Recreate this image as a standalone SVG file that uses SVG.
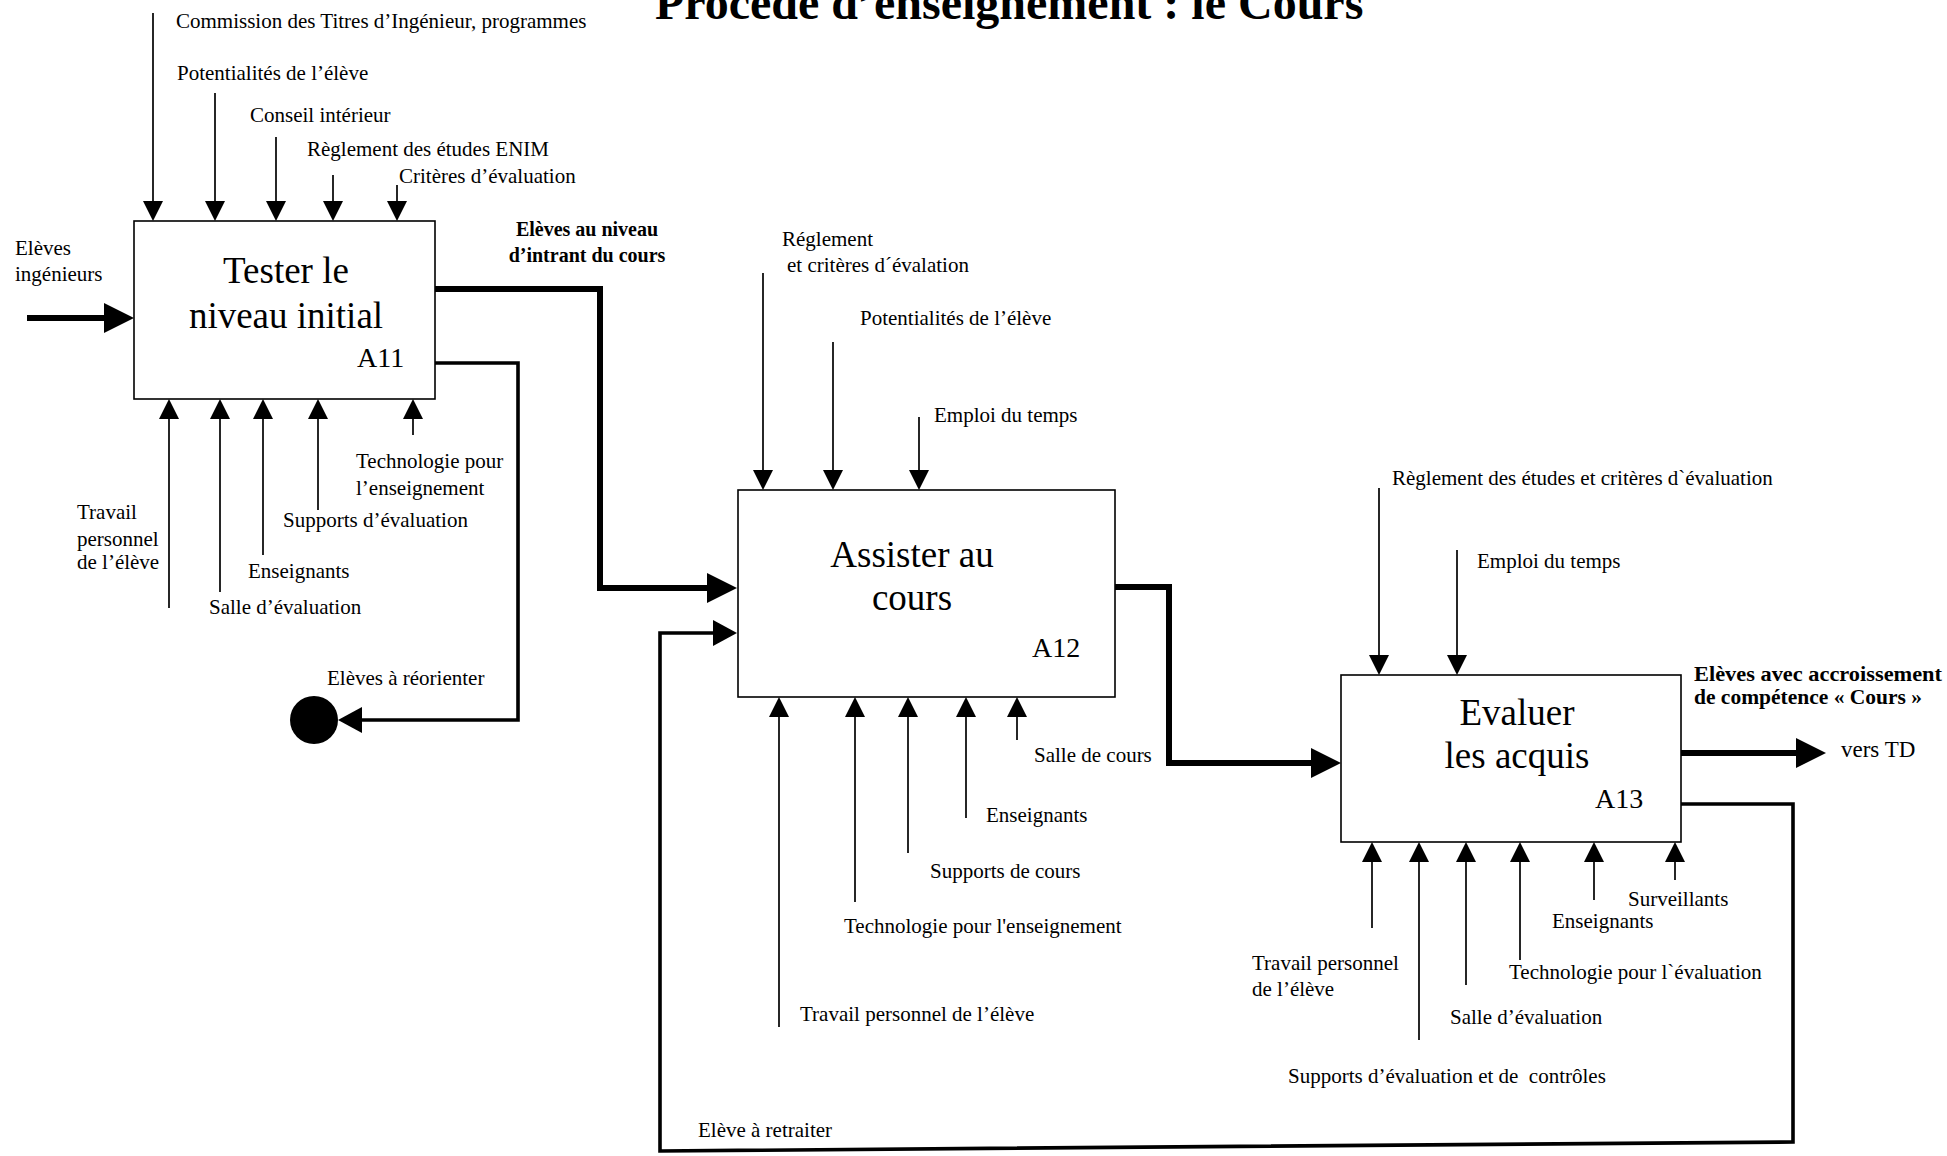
<svg xmlns="http://www.w3.org/2000/svg" width="1947" height="1156" viewBox="0 0 1947 1156">
<style>
text{font-family:"Liberation Serif","Times New Roman",serif;fill:#000}
.lbl{font-size:21px}
.bl{font-size:20px;font-weight:bold}
.ttl{font-size:48px;font-weight:bold}
.nm{font-size:37px;text-anchor:middle}
.id{font-size:28px}
.box{fill:#fff;stroke:#000;stroke-width:1.6}
.c{fill:none;stroke:#000;stroke-width:1.7}
.k{fill:none;stroke:#000;stroke-width:6}
.m{fill:none;stroke:#000;stroke-width:3.6}
.s{marker-end:url(#ah)}
.kl{marker-end:url(#ahL)}
.mm{marker-end:url(#ahM)}
</style>
<defs>
<marker id="ah" viewBox="0 0 20 20" refX="0" refY="10" markerWidth="20" markerHeight="20" markerUnits="userSpaceOnUse" orient="auto"><path d="M0,0 L20,10 L0,20 z" fill="#000"/></marker>
<marker id="ahL" viewBox="0 0 30 30" refX="0" refY="15" markerWidth="30" markerHeight="30" markerUnits="userSpaceOnUse" orient="auto"><path d="M0,0 L30,15 L0,30 z" fill="#000"/></marker>
<marker id="ahM" viewBox="0 0 24 26" refX="0" refY="13" markerWidth="24" markerHeight="26" markerUnits="userSpaceOnUse" orient="auto"><path d="M0,0 L24,13 L0,26 z" fill="#000"/></marker>
</defs>
<rect width="1947" height="1156" fill="#fff"/>
<text class="ttl" x="655" y="19">Procédé d’enseignement : le Cours</text>

<g id="connectors">
<path class="c s" d="M153,13 V201"/>
<path class="c s" d="M215,93 V201"/>
<path class="c s" d="M276,137 V201"/>
<path class="c s" d="M333,175 V201"/>
<path class="c s" d="M397,185 V201"/>
<path class="c s" d="M169,608 V419"/>
<path class="c s" d="M220,592 V419"/>
<path class="c s" d="M263,555 V419"/>
<path class="c s" d="M318,510 V419"/>
<path class="c s" d="M413,435 V419"/>
<path class="k kl" d="M27,318 H104"/>
<path class="k kl" d="M435,289 H600 V588 H707"/>
<path class="m mm" d="M435,363 H518 V720 H362"/>
<path class="c s" d="M763,273 V470"/>
<path class="c s" d="M833,342 V470"/>
<path class="c s" d="M919,417 V470"/>
<path class="m mm" d="M1681,804 H1793 V1142 L660,1151 V633 H713"/>
<path class="c s" d="M779,1027 V717"/>
<path class="c s" d="M855,902 V717"/>
<path class="c s" d="M908,853 V717"/>
<path class="c s" d="M966,818 V717"/>
<path class="c s" d="M1017,740 V717"/>
<path class="k kl" d="M1115,587 H1169 V763 H1311"/>
<path class="c s" d="M1379,488 V655"/>
<path class="c s" d="M1457,550 V655"/>
<path class="k kl" d="M1681,753 H1796"/>
<path class="c s" d="M1372,928 V862"/>
<path class="c s" d="M1419,1040 V862"/>
<path class="c s" d="M1466,985 V862"/>
<path class="c s" d="M1520,960 V862"/>
<path class="c s" d="M1594,900 V862"/>
<path class="c s" d="M1675,880 V862"/>
</g>

<g id="A11">
<rect class="box" x="134" y="221" width="301" height="178"/>
<text class="nm" x="286" y="283">Tester le</text>
<text class="nm" x="286" y="328">niveau initial</text>
<text class="id" x="357" y="367">A11</text>
</g>
<g id="A12">
<rect class="box" x="738" y="490" width="377" height="207"/>
<text class="nm" x="912" y="567">Assister au</text>
<text class="nm" x="912" y="610">cours</text>
<text class="id" x="1032" y="657">A12</text>
</g>
<g id="A13">
<rect class="box" x="1341" y="675" width="340" height="167"/>
<text class="nm" x="1517" y="725">Evaluer</text>
<text class="nm" x="1517" y="768">les acquis</text>
<text class="id" x="1595" y="808">A13</text>
</g>
<g id="reorienter">
<circle cx="314" cy="720" r="24" fill="#000"/>
</g>

<g id="labels">
<text class="lbl" x="176" y="28">Commission des Titres d’Ingénieur, programmes</text>
<text class="lbl" x="177" y="80">Potentialités de l’élève</text>
<text class="lbl" x="250" y="122">Conseil intérieur</text>
<text class="lbl" x="307" y="156">Règlement des études ENIM</text>
<text class="lbl" x="399" y="183">Critères d’évaluation</text>
<text class="lbl" x="15" y="255">Elèves</text>
<text class="lbl" x="15" y="281">ingénieurs</text>
<text class="bl" x="587" y="236" text-anchor="middle">Elèves au niveau</text>
<text class="bl" x="587" y="262" text-anchor="middle">d’intrant du cours</text>
<text class="lbl" x="356" y="468">Technologie pour</text>
<text class="lbl" x="356" y="495">l’enseignement</text>
<text class="lbl" x="283" y="527">Supports d’évaluation</text>
<text class="lbl" x="77" y="519">Travail</text>
<text class="lbl" x="77" y="546">personnel</text>
<text class="lbl" x="77" y="569">de l’élève</text>
<text class="lbl" x="248" y="578">Enseignants</text>
<text class="lbl" x="209" y="614">Salle d’évaluation</text>
<text class="lbl" x="327" y="685">Elèves à réorienter</text>
<text class="lbl" x="782" y="246">Réglement</text>
<text class="lbl" x="787" y="272">et critères d´évalation</text>
<text class="lbl" x="860" y="325">Potentialités de l’élève</text>
<text class="lbl" x="934" y="422">Emploi du temps</text>
<text class="lbl" x="1034" y="762">Salle de cours</text>
<text class="lbl" x="986" y="822">Enseignants</text>
<text class="lbl" x="930" y="878">Supports de cours</text>
<text class="lbl" x="844" y="933">Technologie pour l'enseignement</text>
<text class="lbl" x="800" y="1021">Travail personnel de l’élève</text>
<text class="lbl" x="698" y="1137">Elève à retraiter</text>
<text class="lbl" x="1392" y="485">Règlement des études et critères d`évaluation</text>
<text class="lbl" x="1477" y="568">Emploi du temps</text>
<text class="bl" x="1694" y="681" textLength="248" lengthAdjust="spacingAndGlyphs">Elèves avec accroissement</text>
<text class="bl" x="1694" y="704" textLength="228" lengthAdjust="spacingAndGlyphs">de compétence « Cours »</text>
<text class="lbl" x="1841" y="757" style="font-size:23px">vers TD</text>
<text class="lbl" x="1628" y="906">Surveillants</text>
<text class="lbl" x="1552" y="928">Enseignants</text>
<text class="lbl" x="1509" y="979">Technologie pour l`évaluation</text>
<text class="lbl" x="1252" y="970">Travail personnel</text>
<text class="lbl" x="1252" y="996">de l’élève</text>
<text class="lbl" x="1450" y="1024">Salle d’évaluation</text>
<text class="lbl" x="1288" y="1083">Supports d’évaluation et de&#160; contrôles</text>
</g>
</svg>
